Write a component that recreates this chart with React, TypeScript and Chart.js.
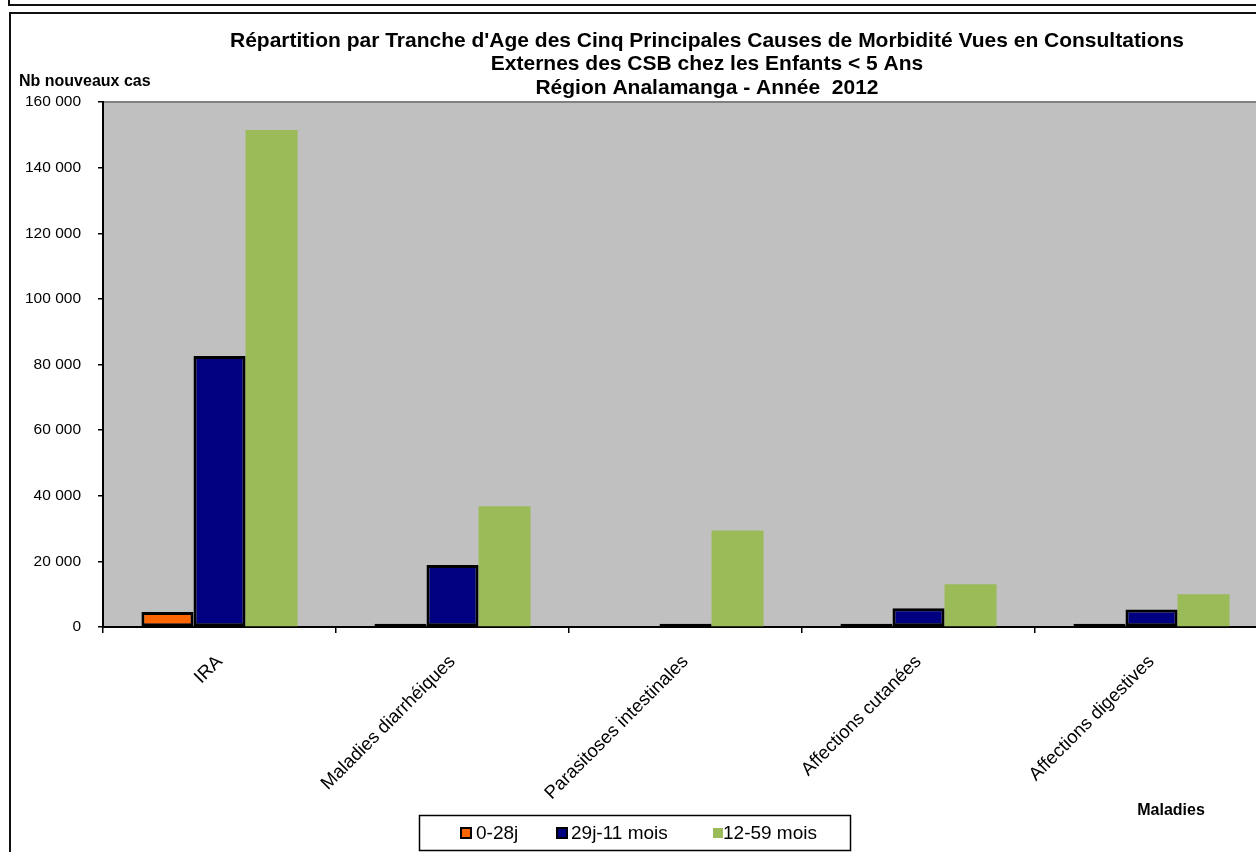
import { useEffect, useRef } from "react";
import { Chart, registerables } from "chart.js";

Chart.register(...registerables);

const categories = [
  "IRA",
  "Maladies diarrhéiques",
  "Parasitoses intestinales",
  "Affections cutanées",
  "Affections digestives",
];
const seriesNames = ["0-28j", "29j-11 mois", "12-59 mois"];
const values0to28j = [4600, 1000, 0, 1000, 1000];
const values29jTo11mois = [82600, 18900, 1000, 5700, 5300];
const values12to59mois = [151500, 36800, 29400, 13000, 10000];
const yMax = 160000;
const yStep = 20000;
const titleLines = [
  "Répartition par Tranche d'Age des Cinq Principales Causes de Morbidité Vues en Consultations",
  "Externes des CSB chez les Enfants < 5 Ans",
  "Région Analamanga - Année  2012",
];
const yAxisTitle = "Nb nouveaux cas";
const xAxisTitle = "Maladies";

const seriesColors = ["#FF6600", "#000080", "#9BBB59"];
const seriesBorders = [3, 3, 0];

const FONT = "Arial, 'Liberation Sans', sans-serif";

const fmt = (v: number) => String(Math.round(v)).replace(/\B(?=(\d{3})+(?!\d))/g, " ");

const decorPlugin = {
  id: "decor",
  beforeDraw(chart: any) {
    const { ctx, chartArea, width, height } = chart;
    ctx.save();
    ctx.strokeStyle = "#111";
    ctx.lineWidth = 2;
    ctx.beginPath();
    ctx.moveTo(9, 0);
    ctx.lineTo(9, 5);
    ctx.lineTo(width, 5);
    ctx.moveTo(10, height);
    ctx.lineTo(10, 13);
    ctx.lineTo(width, 13);
    ctx.stroke();
    ctx.fillStyle = "#C0C0C0";
    ctx.fillRect(chartArea.left, chartArea.top, chartArea.right - chartArea.left, chartArea.bottom - chartArea.top);
    ctx.strokeStyle = "#808080";
    ctx.lineWidth = 2;
    ctx.strokeRect(chartArea.left, chartArea.top, chartArea.right - chartArea.left, chartArea.bottom - chartArea.top);
    ctx.restore();
  },
  afterDraw(chart: any) {
    const { ctx } = chart;
    ctx.save();
    ctx.fillStyle = "#000";
    ctx.textAlign = "center";
    ctx.textBaseline = "middle";
    ctx.font = `bold 21px ${FONT}`;
    const ty = [41, 64.5, 88];
    titleLines.forEach((t, i) => ctx.fillText(t, 707, ty[i]));
    ctx.font = `bold 16px ${FONT}`;
    ctx.textAlign = "left";
    ctx.fillText(yAxisTitle, 19, 82);
    ctx.textAlign = "center";
    ctx.fillText(xAxisTitle, 1171, 811);
    ctx.strokeStyle = "#000";
    ctx.lineWidth = 1.5;
    ctx.strokeRect(419.5, 815.5, 431, 35);
    const sq = [461, 557, 713];
    const tx = [476, 571, 723];
    ctx.font = `19px ${FONT}`;
    ctx.textAlign = "left";
    chart.data.datasets.forEach((ds: any, i: number) => {
      ctx.fillStyle = ds.backgroundColor;
      ctx.fillRect(sq[i], 828, 10, 10);
      if (ds.borderWidth > 0) {
        ctx.strokeStyle = "#000";
        ctx.lineWidth = 2;
        ctx.strokeRect(sq[i], 828, 10, 10);
      }
      ctx.fillStyle = "#000";
      ctx.fillText(ds.label, tx[i], 833.5);
    });
    ctx.restore();
  },
};

export default function App() {
  const ref = useRef<HTMLCanvasElement | null>(null);
  useEffect(() => {
    if (!ref.current) return;
    const data = [values0to28j, values29jTo11mois, values12to59mois];
    const chart = new Chart(ref.current, {
      type: "bar",
      data: {
        labels: categories,
        datasets: seriesNames.map((name, i) => ({
          label: name,
          data: data[i],
          backgroundColor: seriesColors[i],
          borderColor: "#000",
          borderWidth: seriesBorders[i],
          borderSkipped: false,
          categoryPercentage: 0.67,
          barPercentage: 1.0,
        })),
      },
      options: {
        animation: false,
        responsive: false,
        maintainAspectRatio: false,
        layout: { padding: { top: 102, left: 0, right: 12, bottom: 0 } },
        plugins: {
          legend: { display: false },
          title: { display: false },
          tooltip: { enabled: false },
        },
        scales: {
          x: {
            grid: {
              display: true,
              drawOnChartArea: false,
              drawTicks: true,
              tickLength: 6,
              color: "#000",
              lineWidth: 1.5,
              offset: true,
            },
            border: { display: true, color: "#000", width: 2 },
            ticks: {
              minRotation: 45,
              maxRotation: 45,
              autoSkip: false,
              padding: 18,
              color: "#000",
              font: { family: FONT, size: 18.5 },
            },
            afterFit: (s: any) => {
              s.height = 225;
            },
          },
          y: {
            min: 0,
            max: yMax,
            grid: {
              display: true,
              drawOnChartArea: false,
              drawTicks: true,
              tickLength: 5,
              color: "#000",
              lineWidth: 1.5,
            },
            border: { display: true, color: "#000", width: 2 },
            ticks: {
              stepSize: yStep,
              padding: 17,
              color: "#000",
              font: { family: FONT, size: 15.5 },
              callback: (v: any) => fmt(Number(v)),
            },
            afterFit: (s: any) => {
              s.width = 103;
            },
          },
        },
      },
      plugins: [decorPlugin],
    });
    return () => chart.destroy();
  }, []);
  return (
    <div style={{ position: "absolute", left: 0, top: 0, width: 1256, height: 852, overflow: "hidden", background: "#fff" }}>
      <canvas ref={ref} width={1280} height={852} style={{ display: "block", width: 1280, height: 852 }} />
    </div>
  );
}
